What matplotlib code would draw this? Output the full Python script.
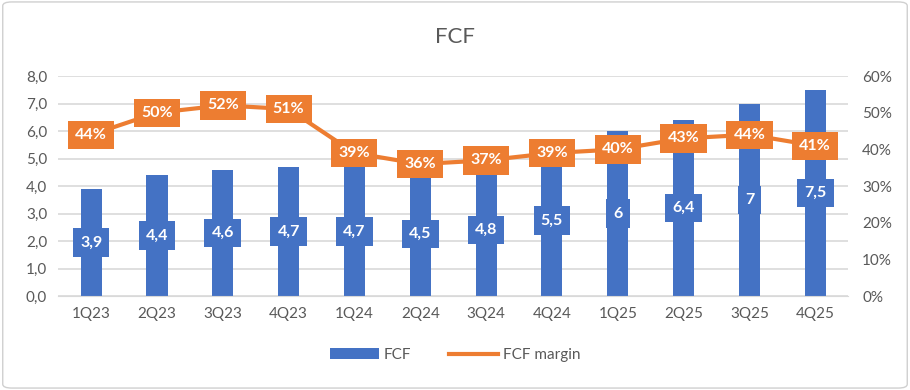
import matplotlib.pyplot as plt
from matplotlib.patches import FancyBboxPatch
from matplotlib.ticker import FuncFormatter

quarters = ["1Q23", "2Q23", "3Q23", "4Q23", "1Q24", "2Q24", "3Q24", "4Q24",
            "1Q25", "2Q25", "3Q25", "4Q25"]
fcf = [3.9, 4.4, 4.6, 4.7, 4.7, 4.5, 4.8, 5.5, 6.0, 6.4, 7.0, 7.5]
fcf_labels = ["3,9", "4,4", "4,6", "4,7", "4,7", "4,5", "4,8", "5,5", "6", "6,4", "7", "7,5"]
margin = [0.44, 0.50, 0.52, 0.51, 0.39, 0.36, 0.37, 0.39, 0.40, 0.43, 0.44, 0.41]

BLUE = "#4472C4"
ORANGE = "#ED7D31"
GREY = "#595959"

plt.rcParams['font.family'] = ['Lato', 'DejaVu Sans']

fig = plt.figure(figsize=(9.1, 3.9), dpi=100)
# outer border like the Excel chart frame
fig.patches.append(FancyBboxPatch((0.003, 0.005), 0.994, 0.99, boxstyle="round,pad=0,rounding_size=0.01",
                                  transform=fig.transFigure, fill=False, edgecolor="#d0d0d0", lw=1))
ax = fig.add_axes([0.064, 0.241, 0.868, 0.564])
ax2 = ax.twinx()

x = range(len(quarters))
ax.bar(x, fcf, width=0.32, color=BLUE, zorder=2, label="FCF")
ax.set_ylim(0, 8)
ax.set_yticks([i for i in range(9)])
ax.yaxis.set_major_formatter(FuncFormatter(lambda v, p: f"{v:.1f}".replace(".", ",")))
ax.set_xlim(-0.5, len(quarters) - 0.5)
ax.set_xticks(list(x))
ax.set_xticklabels(quarters)
ax.grid(axis="y", color="#d9d9d9", lw=1.2, zorder=0)
ax.set_axisbelow(True)

for i, v in enumerate(fcf):
    ax.text(i, v / 2, fcf_labels[i], ha="center", va="center", color="white", fontsize=11.5,
            fontweight="bold", zorder=4,
            bbox=dict(boxstyle="square,pad=0.45", fc=BLUE, ec="none"))

ax2.plot(x, margin, color=ORANGE, lw=3, zorder=3, label="FCF margin")
ax2.set_ylim(0, 0.6)
ax2.set_yticks([i / 10 for i in range(7)])
ax2.yaxis.set_major_formatter(FuncFormatter(lambda v, p: f"{v * 100:.0f}%"))
for i, v in enumerate(margin):
    ax2.text(i, v, f"{v * 100:.0f}%", ha="center", va="center", color="white", fontsize=11.5,
             fontweight="bold", zorder=5,
             bbox=dict(boxstyle="square,pad=0.45", fc=ORANGE, ec="none"))

for a in (ax, ax2):
    for s in a.spines.values():
        s.set_visible(False)
    a.tick_params(length=0, labelsize=11, labelcolor=GREY)
ax.spines["bottom"].set_visible(True)
ax.spines["bottom"].set_color("#d9d9d9")
ax.tick_params(axis="y", pad=8)
ax.tick_params(axis="x", pad=8)
ax2.tick_params(axis="y", pad=10)

fig.text(0.5, 0.905, "FCF", ha="center", va="center", fontsize=16, color=GREY)

h1, l1 = ax.get_legend_handles_labels()
h2, l2 = ax2.get_legend_handles_labels()
fig.legend(h1 + h2, l1 + l2, loc="center", bbox_to_anchor=(0.5, 0.09), ncol=2, frameon=False,
           fontsize=11, labelcolor=GREY, handlelength=3.2, columnspacing=2.5, handletextpad=0.3)

fig.savefig("out.png", dpi=100)
